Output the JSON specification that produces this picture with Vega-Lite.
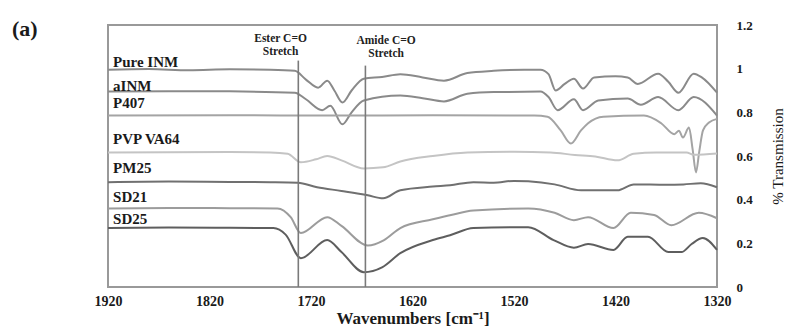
{
  "$schema": "https://vega.github.io/schema/vega-lite/v6.json",
  "autosize": {"type": "none"},
  "width": 609,
  "height": 262,
  "padding": {"left": 108, "top": 25, "right": 79, "bottom": 48},
  "background": "white",
  "config": {
    "view": {"stroke": "#999999", "strokeWidth": 2},
    "font": "Liberation Serif"
  },
  "title": {
    "text": "(a)",
    "anchor": "start",
    "frame": "group",
    "orient": "top",
    "dx": -96,
    "dy": 32,
    "offset": -12,
    "baseline": "bottom",
    "font": "Liberation Serif",
    "fontSize": 22,
    "fontWeight": "bold",
    "color": "#1a1a1a"
  },
  "datasets": {
    "spectra": [
      {"s":"Pure INM","w":1920,"t":0.995},{"s":"Pure INM","w":1880,"t":0.998},{"s":"Pure INM","w":1840,"t":0.993},{"s":"Pure INM","w":1800,"t":0.997},{"s":"Pure INM","w":1760,"t":0.995},{"s":"Pure INM","w":1736,"t":0.99},{"s":"Pure INM","w":1725,"t":0.95},{"s":"Pure INM","w":1713,"t":0.913},{"s":"Pure INM","w":1704,"t":0.945},{"s":"Pure INM","w":1697,"t":0.9},{"s":"Pure INM","w":1689,"t":0.845},{"s":"Pure INM","w":1680,"t":0.9},{"s":"Pure INM","w":1668,"t":0.954},{"s":"Pure INM","w":1650,"t":0.962},{"s":"Pure INM","w":1632,"t":0.975},{"s":"Pure INM","w":1610,"t":0.96},{"s":"Pure INM","w":1589,"t":0.945},{"s":"Pure INM","w":1566,"t":0.98},{"s":"Pure INM","w":1540,"t":0.99},{"s":"Pure INM","w":1510,"t":0.995},{"s":"Pure INM","w":1494,"t":0.995},{"s":"Pure INM","w":1486,"t":0.975},{"s":"Pure INM","w":1479,"t":0.9},{"s":"Pure INM","w":1470,"t":0.93},{"s":"Pure INM","w":1461,"t":0.954},{"s":"Pure INM","w":1452,"t":0.909},{"s":"Pure INM","w":1441,"t":0.96},{"s":"Pure INM","w":1420,"t":0.965},{"s":"Pure INM","w":1408,"t":0.96},{"s":"Pure INM","w":1398,"t":0.93},{"s":"Pure INM","w":1378,"t":0.977},{"s":"Pure INM","w":1368,"t":0.94},{"s":"Pure INM","w":1358,"t":0.89},{"s":"Pure INM","w":1343,"t":0.977},{"s":"Pure INM","w":1335,"t":0.96},{"s":"Pure INM","w":1320,"t":0.89},

      {"s":"aINM","w":1920,"t":0.895},{"s":"aINM","w":1860,"t":0.897},{"s":"aINM","w":1800,"t":0.896},{"s":"aINM","w":1736,"t":0.89},{"s":"aINM","w":1725,"t":0.86},{"s":"aINM","w":1709,"t":0.81},{"s":"aINM","w":1701,"t":0.83},{"s":"aINM","w":1689,"t":0.745},{"s":"aINM","w":1680,"t":0.8},{"s":"aINM","w":1668,"t":0.854},{"s":"aINM","w":1632,"t":0.877},{"s":"aINM","w":1610,"t":0.865},{"s":"aINM","w":1589,"t":0.85},{"s":"aINM","w":1566,"t":0.885},{"s":"aINM","w":1540,"t":0.893},{"s":"aINM","w":1494,"t":0.895},{"s":"aINM","w":1486,"t":0.87},{"s":"aINM","w":1477,"t":0.81},{"s":"aINM","w":1461,"t":0.86},{"s":"aINM","w":1452,"t":0.81},{"s":"aINM","w":1437,"t":0.854},{"s":"aINM","w":1408,"t":0.863},{"s":"aINM","w":1395,"t":0.835},{"s":"aINM","w":1378,"t":0.87},{"s":"aINM","w":1358,"t":0.81},{"s":"aINM","w":1343,"t":0.87},{"s":"aINM","w":1320,"t":0.785},

      {"s":"P407","w":1920,"t":0.785},{"s":"P407","w":1800,"t":0.787},{"s":"P407","w":1700,"t":0.785},{"s":"P407","w":1600,"t":0.787},{"s":"P407","w":1500,"t":0.785},{"s":"P407","w":1487,"t":0.78},{"s":"P407","w":1474,"t":0.717},{"s":"P407","w":1464,"t":0.657},{"s":"P407","w":1454,"t":0.717},{"s":"P407","w":1447,"t":0.75},{"s":"P407","w":1432,"t":0.78},{"s":"P407","w":1392,"t":0.785},{"s":"P407","w":1375,"t":0.75},{"s":"P407","w":1362,"t":0.7},{"s":"P407","w":1357.5,"t":0.716},{"s":"P407","w":1353.6,"t":0.685},{"s":"P407","w":1347.6,"t":0.73},{"s":"P407","w":1344,"t":0.63},{"s":"P407","w":1340.7,"t":0.525},{"s":"P407","w":1337.5,"t":0.62},{"s":"P407","w":1333.8,"t":0.717},{"s":"P407","w":1327.9,"t":0.753},{"s":"P407","w":1320,"t":0.77},

      {"s":"PVP VA64","w":1920,"t":0.616},{"s":"PVP VA64","w":1800,"t":0.618},{"s":"PVP VA64","w":1760,"t":0.616},{"s":"PVP VA64","w":1743,"t":0.61},{"s":"PVP VA64","w":1730,"t":0.571},{"s":"PVP VA64","w":1715,"t":0.585},{"s":"PVP VA64","w":1704,"t":0.6},{"s":"PVP VA64","w":1690,"t":0.58},{"s":"PVP VA64","w":1668,"t":0.543},{"s":"PVP VA64","w":1649,"t":0.548},{"s":"PVP VA64","w":1632,"t":0.575},{"s":"PVP VA64","w":1600,"t":0.6},{"s":"PVP VA64","w":1566,"t":0.616},{"s":"PVP VA64","w":1520,"t":0.62},{"s":"PVP VA64","w":1484,"t":0.616},{"s":"PVP VA64","w":1460,"t":0.605},{"s":"PVP VA64","w":1440,"t":0.598},{"s":"PVP VA64","w":1418,"t":0.58},{"s":"PVP VA64","w":1402,"t":0.61},{"s":"PVP VA64","w":1380,"t":0.616},{"s":"PVP VA64","w":1350,"t":0.616},{"s":"PVP VA64","w":1343,"t":0.606},{"s":"PVP VA64","w":1320,"t":0.612},

      {"s":"PM25","w":1920,"t":0.48},{"s":"PM25","w":1860,"t":0.483},{"s":"PM25","w":1800,"t":0.481},{"s":"PM25","w":1760,"t":0.48},{"s":"PM25","w":1733,"t":0.478},{"s":"PM25","w":1714,"t":0.457},{"s":"PM25","w":1690,"t":0.44},{"s":"PM25","w":1664,"t":0.42},{"s":"PM25","w":1649,"t":0.406},{"s":"PM25","w":1632,"t":0.443},{"s":"PM25","w":1600,"t":0.46},{"s":"PM25","w":1583,"t":0.466},{"s":"PM25","w":1560,"t":0.48},{"s":"PM25","w":1540,"t":0.478},{"s":"PM25","w":1520,"t":0.486},{"s":"PM25","w":1506,"t":0.484},{"s":"PM25","w":1480,"t":0.47},{"s":"PM25","w":1454,"t":0.443},{"s":"PM25","w":1418,"t":0.443},{"s":"PM25","w":1402,"t":0.47},{"s":"PM25","w":1370,"t":0.468},{"s":"PM25","w":1353,"t":0.47},{"s":"PM25","w":1336,"t":0.475},{"s":"PM25","w":1320,"t":0.457},

      {"s":"SD21","w":1920,"t":0.36},{"s":"SD21","w":1860,"t":0.362},{"s":"SD21","w":1800,"t":0.361},{"s":"SD21","w":1753,"t":0.36},{"s":"SD21","w":1740,"t":0.32},{"s":"SD21","w":1730,"t":0.247},{"s":"SD21","w":1704,"t":0.32},{"s":"SD21","w":1690,"t":0.28},{"s":"SD21","w":1664,"t":0.19},{"s":"SD21","w":1648,"t":0.215},{"s":"SD21","w":1632,"t":0.27},{"s":"SD21","w":1600,"t":0.31},{"s":"SD21","w":1582,"t":0.33},{"s":"SD21","w":1560,"t":0.35},{"s":"SD21","w":1506,"t":0.36},{"s":"SD21","w":1480,"t":0.34},{"s":"SD21","w":1461,"t":0.306},{"s":"SD21","w":1447,"t":0.32},{"s":"SD21","w":1422,"t":0.27},{"s":"SD21","w":1405,"t":0.34},{"s":"SD21","w":1382,"t":0.33},{"s":"SD21","w":1365,"t":0.283},{"s":"SD21","w":1338,"t":0.34},{"s":"SD21","w":1320,"t":0.315},

      {"s":"SD25","w":1920,"t":0.27},{"s":"SD25","w":1860,"t":0.272},{"s":"SD25","w":1800,"t":0.271},{"s":"SD25","w":1757,"t":0.27},{"s":"SD25","w":1745,"t":0.24},{"s":"SD25","w":1730,"t":0.132},{"s":"SD25","w":1704,"t":0.215},{"s":"SD25","w":1690,"t":0.16},{"s":"SD25","w":1668,"t":0.068},{"s":"SD25","w":1650,"t":0.09},{"s":"SD25","w":1632,"t":0.155},{"s":"SD25","w":1600,"t":0.215},{"s":"SD25","w":1583,"t":0.237},{"s":"SD25","w":1560,"t":0.27},{"s":"SD25","w":1506,"t":0.274},{"s":"SD25","w":1481,"t":0.215},{"s":"SD25","w":1461,"t":0.18},{"s":"SD25","w":1447,"t":0.197},{"s":"SD25","w":1422,"t":0.17},{"s":"SD25","w":1408,"t":0.23},{"s":"SD25","w":1388,"t":0.23},{"s":"SD25","w":1368,"t":0.16},{"s":"SD25","w":1355,"t":0.16},{"s":"SD25","w":1345,"t":0.197},{"s":"SD25","w":1334,"t":0.224},{"s":"SD25","w":1320,"t":0.17}
    ],
    "markers": [
      {"w": 1732.5, "t": 0, "t2": 1.037},
      {"w": 1666.4, "t": 0, "t2": 1.014}
    ],
    "notes": [
      {"w": 1750, "t": 1.162, "txt": "Ester C=O\nStretch"},
      {"w": 1646, "t": 1.153, "txt": "Amide C=O\nStretch"}
    ],
    "labels": [
      {"w": 1915, "t": 1.03, "txt": "Pure INM"},
      {"w": 1915, "t": 0.922, "txt": "aINM"},
      {"w": 1915, "t": 0.845, "txt": "P407"},
      {"w": 1915, "t": 0.68, "txt": "PVP VA64"},
      {"w": 1915, "t": 0.543, "txt": "PM25"},
      {"w": 1915, "t": 0.411, "txt": "SD21"},
      {"w": 1915, "t": 0.31, "txt": "SD25"}
    ]
  },
  "encoding": {
    "x": {
      "field": "w",
      "type": "quantitative",
      "scale": {"domain": [1320, 1920], "reverse": true, "nice": false, "zero": false},
      "axis": {
        "values": [1920, 1820, 1720, 1620, 1520, 1420, 1320],
        "format": "d",
        "title": "Wavenumbers [cm⁻¹]",
        "domain": false,
        "ticks": false,
        "grid": false,
        "labelFont": "Liberation Serif",
        "labelFontSize": 14,
        "labelFontWeight": "bold",
        "labelColor": "#1a1a1a",
        "labelPadding": 7,
        "labelFlush": false,
        "titleFont": "Liberation Serif",
        "titleFontSize": 17,
        "titleFontWeight": "bold",
        "titleColor": "#1a1a1a",
        "titlePadding": 2
      }
    },
    "y": {
      "field": "t",
      "type": "quantitative",
      "scale": {"domain": [0, 1.2], "nice": false},
      "axis": {
        "orient": "right",
        "values": [0, 0.2, 0.4, 0.6, 0.8, 1, 1.2],
        "format": "~g",
        "title": "% Transmission",
        "domain": false,
        "ticks": false,
        "grid": false,
        "labelAlign": "left",
        "labelPadding": 19,
        "labelFont": "Liberation Serif",
        "labelFontSize": 13,
        "labelFontWeight": "bold",
        "labelColor": "#1a1a1a",
        "labelFlush": false,
        "titleFont": "Liberation Serif",
        "titleFontSize": 15,
        "titleFontWeight": "normal",
        "titleColor": "#1a1a1a",
        "titleAngle": 270,
        "titleBaseline": "middle",
        "titleAlign": "center",
        "titleX": 60,
        "titleY": 131
      }
    }
  },
  "layer": [
    {
      "data": {"name": "spectra"},
      "mark": {"type": "line", "interpolate": "monotone", "strokeWidth": 2},
      "encoding": {
        "color": {
          "field": "s",
          "type": "nominal",
          "scale": {
            "domain": ["Pure INM", "aINM", "P407", "PVP VA64", "PM25", "SD21", "SD25"],
            "range": ["#8a8a8a", "#8a8a8a", "#a4a4a4", "#c4c4c4", "#707070", "#9c9c9c", "#5e5e5e"]
          },
          "legend": null
        }
      }
    },
    {
      "data": {"name": "markers"},
      "mark": {"type": "rule", "color": "#7a7a7a", "strokeWidth": 1.6},
      "encoding": {
        "y2": {"field": "t2"}
      }
    },
    {
      "data": {"name": "notes"},
      "mark": {"type": "text", "font": "Liberation Serif", "fontSize": 11.5, "fontWeight": "bold", "color": "#222222", "align": "center", "baseline": "top", "lineBreak": "\n", "lineHeight": 12.5},
      "encoding": {"text": {"field": "txt"}}
    },
    {
      "data": {"name": "labels"},
      "mark": {"type": "text", "font": "Liberation Serif", "fontSize": 15, "fontWeight": "bold", "color": "#1a1a1a", "align": "left", "baseline": "middle"},
      "encoding": {"text": {"field": "txt"}}
    }
  ]
}
